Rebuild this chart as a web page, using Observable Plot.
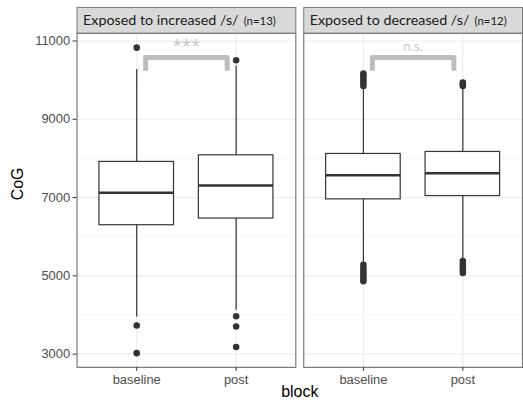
<!DOCTYPE html>
<html>
<head>
<meta charset="utf-8">
<script src="https://cdn.jsdelivr.net/npm/d3@7"></script>
<script src="https://cdn.jsdelivr.net/npm/@observablehq/plot@0.6"></script>
<style>
  html, body { margin: 0; padding: 0; background: #fff; overflow: hidden; }
  #chart { width: 523px; height: 414px; overflow: hidden; }
</style>
</head>
<body>
<div id="chart"></div>
<script>
// ---- data ----
const panels = ["Exposed to increased /s/", "Exposed to decreased /s/"];
const panelN = ["(n=13)", "(n=12)"];
const blocks = ["baseline", "post"];
const blockPos = [1, 2];

// boxes: increased-baseline, increased-post, decreased-baseline, decreased-post
const boxPanel = [panels[0], panels[0], panels[1], panels[1]];
const boxBlock = ["baseline", "post", "baseline", "post"];
const q1 = [6293, 6464, 6954, 7038];
const median = [7124, 7309, 7571, 7622];
const q3 = [7911, 8079, 8114, 8165];
const whiskerLow = [3950, 4120, 5330, 5420];
const whiskerHigh = [10270, 10360, 9800, 9800];

// outliers
const outPanel = [
  panels[0], panels[0], panels[0],
  panels[0], panels[0], panels[0], panels[0],
  panels[1], panels[1], panels[1], panels[1], panels[1], panels[1],
  panels[1], panels[1], panels[1], panels[1], panels[1], panels[1], panels[1],
  panels[1], panels[1], panels[1],
  panels[1], panels[1], panels[1], panels[1], panels[1]
];
const outBlock = [
  "baseline", "baseline", "baseline",
  "post", "post", "post", "post",
  "baseline", "baseline", "baseline", "baseline", "baseline", "baseline",
  "baseline", "baseline", "baseline", "baseline", "baseline", "baseline", "baseline",
  "post", "post", "post",
  "post", "post", "post", "post", "post"
];
const outValue = [
  10830, 3730, 3025,
  10510, 3965, 3705, 3180,
  9850, 9920, 9990, 10060, 10120, 10170,
  5280, 5200, 5120, 5050, 4980, 4920, 4860,
  9850, 9900, 9940,
  5380, 5300, 5220, 5140, 5070
];

// significance annotations
const sigPanel = [panels[0], panels[1]];
const sigText = ["***", "n.s."];
const bracketFrom = [1.09, 1.09];
const bracketTo = [1.91, 1.91];
const bracketLow = [10238, 10238];
const bracketHigh = [10578, 10578];
const sigTextY = [10880, 10850];

const yTicks = [3000, 5000, 7000, 9000, 11000];
const yMinor = [4000, 6000, 8000, 10000];

// ---- build tables ----
const posOf = b => blockPos[blocks.indexOf(b)];
const boxes = boxPanel.map((p, i) => ({
  panel: p, x: posOf(boxBlock[i]), q1: q1[i], med: median[i], q3: q3[i],
  lo: whiskerLow[i], hi: whiskerHigh[i]
}));
const outliers = outValue.map((v, i) => ({panel: outPanel[i], x: posOf(outBlock[i]), y: v}));
const brackets = [];
sigPanel.forEach((p, i) => {
  brackets.push({panel: p, k: i, x: bracketFrom[i], y: bracketLow[i]});
  brackets.push({panel: p, k: i, x: bracketFrom[i], y: bracketHigh[i]});
  brackets.push({panel: p, k: i, x: bracketTo[i], y: bracketHigh[i]});
  brackets.push({panel: p, k: i, x: bracketTo[i], y: bracketLow[i]});
});
const sigLabels = sigPanel.map((p, i) => ({panel: p, x: (bracketFrom[i] + bracketTo[i]) / 2, y: sigTextY[i], text: sigText[i]}));
const strips = panels.map((p, i) => ({panel: p, label: p, n: panelN[i]}));

// measure strip label widths for placing the (n=..) part
const stripFamily = "Lato, 'Open Sans', sans-serif";
const stripSize = 14.4;
const ctx = document.createElement("canvas").getContext("2d");
ctx.font = `${stripSize}px ${stripFamily}`;
strips.forEach(s => { s.w = ctx.measureText(s.label).width; });

const W = 526, H = 414;
const mTop = 33, mBottom = 45, mLeft = 77, mRight = 0;
const panelH = H - mTop - mBottom;
const halfBox = 0.375;
const axisFont = "'Liberation Sans', Arial, Helvetica, sans-serif";

const nMarks = strips.map(s => Plot.text([s], {fx: "panel", text: "n", frameAnchor: "top-left",
  dx: 6 + s.w + 5, dy: -12, textAnchor: "start", lineAnchor: "middle", fontSize: 11.5,
  fill: "#1a1a1a", fontFamily: stripFamily}));

const plot = Plot.plot({
  width: W,
  height: H,
  marginTop: mTop,
  marginBottom: mBottom,
  marginLeft: mLeft,
  marginRight: mRight,
  style: {fontFamily: axisFont, background: "#fff"},
  fx: {domain: panels, paddingInner: 8 / 229, paddingOuter: 0, axis: null},
  x: {domain: [0.4, 2.6]},
  y: {domain: [2661, 11196]},
  marks: [
    // strip backgrounds
    Plot.frame({insetTop: -26, insetBottom: panelH, fill: "#d9d9d9", stroke: "#7a7a7a", strokeWidth: 1}),
    // grid
    Plot.gridY(yMinor, {stroke: "#f0f0f0", strokeOpacity: 1, strokeWidth: 0.6}),
    Plot.gridY(yTicks, {stroke: "#ebebeb", strokeOpacity: 1, strokeWidth: 1.1}),
    Plot.gridX(blockPos, {stroke: "#ebebeb", strokeOpacity: 1, strokeWidth: 1.1}),
    // whiskers
    Plot.ruleX(boxes, {fx: "panel", x: "x", y1: "lo", y2: "hi", stroke: "#333", strokeWidth: 1.2}),
    // boxes
    Plot.rect(boxes, {fx: "panel", x1: d => d.x - halfBox, x2: d => d.x + halfBox, y1: "q1", y2: "q3",
      fill: "#fff", stroke: "#333", strokeWidth: 1.2}),
    Plot.ruleY(boxes, {fx: "panel", x1: d => d.x - halfBox, x2: d => d.x + halfBox, y: "med",
      stroke: "#333", strokeWidth: 2.6}),
    // outliers
    Plot.dot(outliers, {fx: "panel", x: "x", y: "y", r: 3.3, fill: "#333", stroke: "none"}),
    // significance brackets
    Plot.line(brackets, {fx: "panel", x: "x", y: "y", z: "k", stroke: "#bdbdbd", strokeWidth: 5,
      strokeLinejoin: "round", strokeLinecap: "butt"}),
    Plot.text(sigLabels, {fx: "panel", x: "x", y: "y", text: "text", fill: "#c4c4c4",
      fontSize: d => d.text === "***" ? 17 : 12.5, lineAnchor: "middle",
      fontFamily: "'Open Sans', sans-serif"}),
    // panel border
    Plot.frame({stroke: "#7a7a7a", strokeWidth: 1.2}),
    // strip text
    Plot.text(strips, {fx: "panel", text: "label", frameAnchor: "top-left", dx: 6, dy: -13,
      textAnchor: "start", lineAnchor: "middle", fontSize: stripSize, fill: "#1a1a1a",
      fontFamily: stripFamily}),
    ...nMarks,
    // axes
    Plot.axisY(yTicks, {tickSize: 4, tickPadding: 3, fontSize: 13, color: "#4d4d4d", stroke: "#333",
      tickFormat: d3.format("d"), label: null}),
    Plot.axisX(blockPos, {tickSize: 4, tickPadding: 3, fontSize: 13, color: "#4d4d4d", stroke: "#333",
      tickFormat: v => blocks[blockPos.indexOf(v)], label: null}),
    // axis titles
    Plot.text(["CoG"], {facet: "super", frameAnchor: "left", dx: -59, rotate: -90, fontSize: 16, fill: "#000", text: d => d}),
    Plot.text(["block"], {facet: "super", frameAnchor: "bottom", dy: 30, fontSize: 16, fill: "#000", text: d => d})
  ]
});
document.getElementById("chart").appendChild(plot);
</script>
</body>
</html>
